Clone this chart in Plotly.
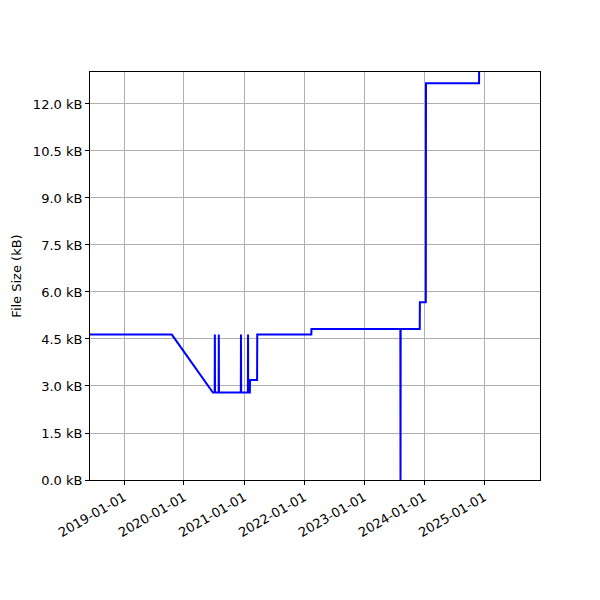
import plotly.graph_objects as go

dates = [
    "2018-06-08", "2019-10-19", "2020-06-25", "2020-07-06", "2020-07-07", "2020-07-08",
    "2020-07-30", "2020-07-31", "2020-08-01", "2020-12-12", "2020-12-13", "2020-12-14",
    "2021-01-24", "2021-01-25", "2021-01-26", "2021-02-05", "2021-02-06", "2021-03-21",
    "2021-03-22", "2022-02-14", "2022-02-15", "2023-08-10", "2023-08-11", "2023-08-12",
    "2023-12-06", "2023-12-07", "2024-01-12", "2024-01-13", "2024-12-01", "2024-12-02",
]
sizes_kb = [
    4.64, 4.64, 2.79, 2.79, 4.64, 2.79,
    2.79, 4.64, 2.79, 2.79, 4.64, 2.79,
    2.79, 4.64, 2.79, 2.79, 3.19, 3.19,
    4.64, 4.64, 4.82, 4.82, 0.0, 4.82,
    4.82, 5.67, 5.67, 12.66, 12.66, 13.6,
]
x_range = ["2018-06-08", "2025-12-07"]
y_range = [0, 13.02]

fig = go.Figure()
fig.add_trace(go.Scatter(x=dates, y=sizes_kb, mode="lines",
                         line=dict(color="#0000ff", width=2), showlegend=False))

font = dict(family="DejaVu Sans", size=13, color="black")
fig.update_layout(
    width=600, height=600,
    margin=dict(l=82, r=68, t=64, b=128),
    paper_bgcolor="white", plot_bgcolor="white",
    font=font,
)
fig.update_xaxes(
    range=x_range, type="date", automargin=False,
    tick0="2019-01-01", dtick="M12", tickformat="%Y-%m-%d", tickangle=-30,
    showgrid=True, gridcolor="#b0b0b0", gridwidth=1,
    showline=True, linecolor="black", linewidth=1, mirror=True,
    ticks="outside", ticklen=4, tickcolor="black", zeroline=False,
)
fig.update_yaxes(
    range=y_range, tick0=0, dtick=1.5, tickformat=".1f", ticksuffix=" kB",
    automargin=False,
    title=dict(text="File Size (kB)", font=font, standoff=8),
    showgrid=True, gridcolor="#b0b0b0", gridwidth=1,
    showline=True, linecolor="black", linewidth=1, mirror=True,
    ticks="outside", ticklen=4, tickcolor="black", zeroline=False,
)
fig.write_html("out.html")
